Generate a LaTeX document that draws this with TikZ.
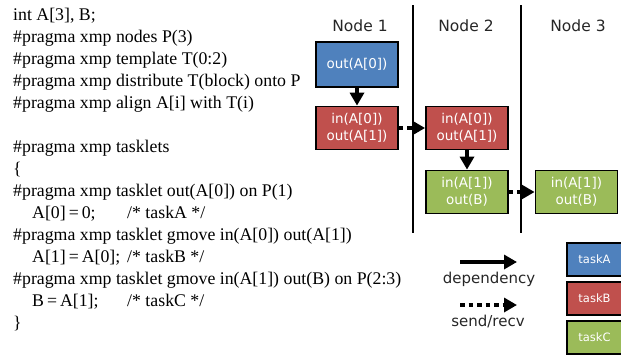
\documentclass[tikz,border=0pt]{standalone}
\usepackage{fontspec}
\setmainfont{Liberation Serif}
\setsansfont{DejaVu Sans}
\usetikzlibrary{arrows.meta}
\definecolor{tblue}{HTML}{4F81BD}
\definecolor{tred}{HTML}{C0504D}
\definecolor{tgreen}{HTML}{9BBB59}

\begin{document}
\begin{tikzpicture}[x=1pt,y=-1pt]
\tikzset{tachenoeud/.style={draw, line width=1.8pt, minimum width=82pt, minimum height=43pt, inner sep=0pt, align=center, text=white, font=\sffamily\fontsize{13.5}{16.5}\selectfont}}
\tikzset{legnoeud/.style={draw, line width=1.8pt, minimum width=55pt, minimum height=33pt, text=white, font=\sffamily\fontsize{11.5}{13}\selectfont}}
\tikzset{codeligne/.style={anchor=base west, inner sep=0pt, font=\fontsize{17.8}{22}\selectfont}}
\tikzset{titre/.style={text=black!85, font=\sffamily\fontsize{15.5}{18}\selectfont}}
\tikzset{dep/.style={line width=4.5pt, -{Triangle[length=13pt,width=14pt]}}}
\tikzset{comm/.style={dep, dash pattern=on 4.5pt off 4pt}}
\useasboundingbox (0,0) rectangle (621,354);
\clip (0,0) rectangle (621,354);
% le programme
\foreach \k/\t in {1/{int A[3], B;},
  2/{\#pragma xmp nodes P(3)},
  3/{\#pragma xmp template T(0:2)},
  4/{\#pragma xmp distribute T(block) onto P},
  5/{\#pragma xmp align A[i] with T(i)},
  7/{\#pragma xmp tasklets},
  8/{\{},
  9/{\#pragma xmp tasklet out(A[0]) on P(1)},
  10/{\hspace*{19pt}\makebox[95pt][l]{A[0]\,=\,0;}/* taskA */},
  11/{\#pragma xmp tasklet gmove in(A[0]) out(A[1])},
  12/{\hspace*{19pt}\makebox[95pt][l]{A[1]\,=\,A[0];}/* taskB */},
  13/{\#pragma xmp tasklet gmove in(A[1]) out(B) on P(2:3)},
  14/{\hspace*{19pt}\makebox[95pt][l]{B\,=\,A[1];}/* taskC */},
  15/{\}}}
  \node[codeligne] (code\k) at (13, {22*\k-1.5}) {\t};
% les noeuds
\draw[line width=1.6pt] (413,5) -- (413,233);
\draw[line width=1.6pt] (521,5) -- (521,233);
\node[titre] (N1) at (360,26) {Node 1};
\node[titre] (N2) at (466,26) {Node 2};
\node[titre] (N3) at (578,26) {Node 3};
\node[tachenoeud, fill=tblue, minimum height=45pt] (TA) at (357,64.5) {out(A[0])};
\node[tachenoeud, fill=tred] (TB1) at (357,128) {in(A[0])\\out(A[1])};
\node[tachenoeud, fill=tred] (TB2) at (467,128) {in(A[0])\\out(A[1])};
\node[tachenoeud, fill=tgreen] (TC2) at (467,192) {in(A[1])\\out(B)};
\node[tachenoeud, fill=tgreen] (TC3) at (576.5,192) {in(A[1])\\out(B)};
\draw[dep] (TA) -- (TB1);
\draw[comm] (TB1) -- (TB2);
\draw[dep] (TB2) -- (TC2);
\draw[comm] (TC2) -- (TC3);
% legende
\coordinate (depS) at (460,262);
\coordinate (depE) at (517,262);
\coordinate (comS) at (460,305);
\coordinate (comE) at (517,305);
\draw[dep] (depS) -- (depE);
\draw[comm] (comS) -- (comE);
\node[titre, font=\sffamily\fontsize{15}{18}\selectfont] (depL) at (489,279) {dependency};
\node[titre, font=\sffamily\fontsize{15}{18}\selectfont] (comL) at (488,321) {send/recv};
\node[legnoeud, fill=tblue] (LA) at (594.5,259.5) {taskA};
\node[legnoeud, fill=tred] (LB) at (594.5,298.5) {taskB};
\node[legnoeud, fill=tgreen] (LC) at (594.5,337.5) {taskC};
\end{tikzpicture}
\end{document}
